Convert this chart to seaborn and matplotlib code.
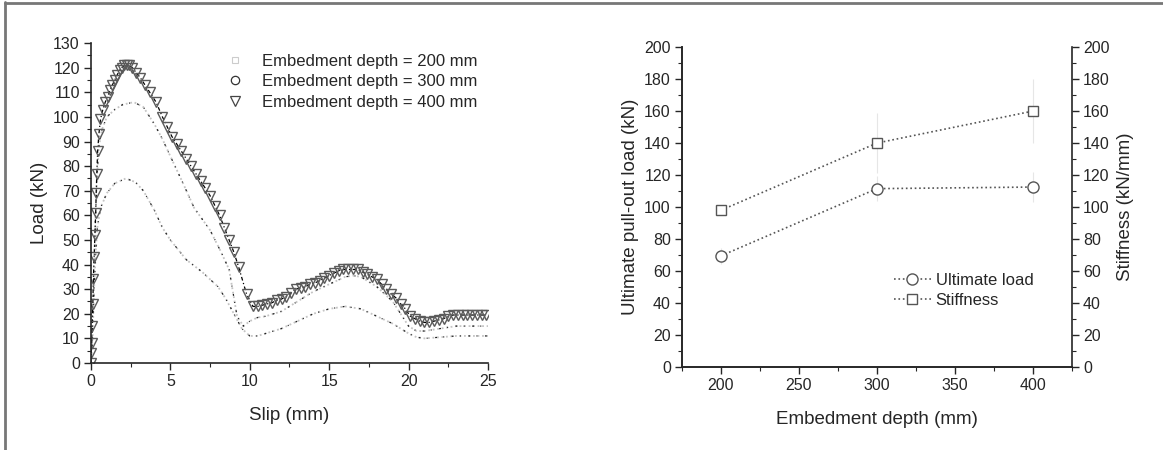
import numpy as np
import pandas as pd
import matplotlib
matplotlib.use("Agg")
import matplotlib.pyplot as plt
from matplotlib.lines import Line2D
from matplotlib.ticker import MultipleLocator
import seaborn as sns

# ---------------- data: left panel (load-slip curves) ----------------
slip_200 = [0, 0.1, 0.2, 0.3, 0.4, 0.6, 1.0, 1.5, 2.2, 2.8, 3.3, 4.0, 4.5, 5.0, 6.0, 7.0,
            8.0, 8.5, 9.0, 9.5, 10.0, 10.5, 11, 12, 13, 14, 15, 16, 17, 18, 19, 20, 20.5,
            21, 22, 23, 24, 25]
load_200 = [0, 10, 30, 45, 55, 63, 69, 73, 75, 73.5, 70, 62, 55, 50, 42, 37,
            31, 26, 20, 14, 11, 11, 12, 14, 17, 20, 22, 23, 22, 19, 16, 12, 10.5,
            10, 10.5, 11, 11, 11]

slip_300 = [0, 0.1, 0.2, 0.3, 0.4, 0.5, 0.7, 1.0, 1.5, 2.0, 2.7, 3.3, 4.0, 4.5, 5.0, 5.8,
            6.5, 7.5, 8.2, 8.7, 9.2, 9.6, 10.0, 10.5, 11, 12, 13, 14, 15, 16, 16.5, 17,
            18, 19, 19.5, 20, 20.5, 21, 22, 23, 24, 25]
load_300 = [0, 15, 40, 62, 78, 88, 95, 100, 103, 105, 106, 104, 97, 91, 84, 73,
            63, 54, 45, 38, 19, 15, 17, 18.5, 19, 21, 25, 29, 32, 35, 35.5, 35,
            31, 25, 20, 15, 13, 13, 14, 15, 15, 15]

slip_400 = [0, 0.02, 0.05, 0.08, 0.12, 0.15, 0.2, 0.25, 0.3, 0.33, 0.37, 0.42, 0.5, 0.6,
            0.75, 0.9, 1.05, 1.2, 1.35, 1.5, 1.65, 1.8, 1.95, 2.1, 2.25, 2.4, 2.6, 2.85,
            3.1, 3.4, 3.7, 4.1, 4.5, 4.8, 5.1, 5.4, 5.7, 6.0, 6.3, 6.6, 6.9, 7.2, 7.5,
            7.8, 8.1, 8.4, 8.7, 9.0, 9.3, 9.8, 10.2, 10.5, 10.8, 11.1, 11.4, 11.7, 12.0,
            12.3, 12.6, 12.9, 13.2, 13.5, 13.8, 14.1, 14.4, 14.7, 15.0, 15.3, 15.6, 15.9,
            16.2, 16.5, 16.8, 17.1, 17.4, 17.7, 18.0, 18.3, 18.6, 18.9, 19.2, 19.5, 19.8,
            20.1, 20.4, 20.7, 21.0, 21.3, 21.6, 21.9, 22.2, 22.5, 22.8, 23.1, 23.4, 23.7,
            24.0, 24.3, 24.6, 24.9]
load_400 = [0, 4, 8, 15, 24, 34, 43, 52, 61, 69, 77, 86, 93, 99,
            103, 106, 108, 111, 113, 115, 117, 119, 120, 121, 121, 121, 120, 118,
            116, 113, 110, 106, 100, 96, 92, 89, 86, 83, 80, 77, 74, 71, 68,
            64, 60, 55, 50, 45, 39, 28, 23, 23, 23.5, 24, 24.5, 25.5, 26,
            27, 28.5, 30, 30.5, 31, 32, 32.5, 33.5, 34.5, 35.5, 36.5, 37.5, 38,
            38, 38, 38, 37, 36, 35, 34, 32, 30, 28, 26.5, 24, 22,
            19, 18, 17, 16.5, 16.5, 17, 17.5, 18, 19, 19.5, 19.5, 19.5, 19.5,
            19.5, 19.5, 19.5, 19.5]

legend_labels_left = ["Embedment depth = 200 mm", "Embedment depth = 300 mm",
                      "Embedment depth = 400 mm"]

# ---------------- data: right panel ----------------
depth = [200, 300, 400]
ultimate_load = [69.5, 111.5, 112.5]
ultimate_err = [5, 8, 9.5]
stiffness = [98, 140, 160]
stiffness_err = [2, 19, 20]

# ---------------- style ----------------
sns.set_style("ticks")
plt.rcParams["font.family"] = ["Liberation Sans", "DejaVu Sans"]
plt.rcParams["axes.linewidth"] = 1.2
plt.rcParams["xtick.major.width"] = 1.0
plt.rcParams["ytick.major.width"] = 1.0
plt.rcParams["xtick.minor.width"] = 0.8
plt.rcParams["ytick.minor.width"] = 0.8
plt.rcParams["xtick.direction"] = "out"
plt.rcParams["ytick.direction"] = "out"

fig = plt.figure(figsize=(11.63, 4.5), dpi=100)
fig.patch.set_facecolor("white")

TICK_FS = 11.5
LABEL_FS = 13.5
LEG_FS = 12

# ---------------- left panel ----------------
ax1 = fig.add_axes([0.0782, 0.1933, 0.3414, 0.711])
grey = "#c4c4c4"
for xs, ys in [(slip_200, load_200), (slip_300, load_300)]:
    df = pd.DataFrame({"x": xs, "y": ys})
    sns.lineplot(data=df, x="x", y="y", ax=ax1, sort=False, estimator=None,
                 color=grey, linestyle=(0, (1, 1.5)), linewidth=1.3)
    sns.lineplot(data=df, x="x", y="y", ax=ax1, sort=False, estimator=None,
                 color="#202020", linewidth=0.9,
                 linestyle=(0, (1.5, 5, 0.8, 6)))
df400 = pd.DataFrame({"x": slip_400, "y": load_400})
sns.lineplot(data=df400, x="x", y="y", ax=ax1, sort=False, estimator=None,
             color="black", linewidth=0.9, linestyle=(0, (3, 2, 1, 2)),
             marker="v", markersize=7.5, markerfacecolor="none",
             markeredgecolor="#5a5a5a", markeredgewidth=1.0)

ax1.set_xlim(0, 25)
ax1.set_ylim(0, 130)
ax1.xaxis.set_major_locator(MultipleLocator(5))
ax1.xaxis.set_minor_locator(MultipleLocator(2.5))
ax1.yaxis.set_major_locator(MultipleLocator(10))
ax1.yaxis.set_minor_locator(MultipleLocator(5))
ax1.tick_params(which="major", length=5, labelsize=TICK_FS, pad=3)
ax1.tick_params(which="minor", length=3)
ax1.set_xlabel("Slip (mm)", fontsize=LABEL_FS, labelpad=13)
ax1.set_ylabel("Load (kN)", fontsize=LABEL_FS, labelpad=4)
sns.despine(ax=ax1)

h1 = [Line2D([], [], linestyle="none", marker="s", markersize=5,
             markerfacecolor="none", markeredgecolor="#cccccc", markeredgewidth=0.8),
      Line2D([], [], linestyle="none", marker="o", markersize=6,
             markerfacecolor="none", markeredgecolor="#333333", markeredgewidth=0.9),
      Line2D([], [], linestyle="none", marker="v", markersize=7,
             markerfacecolor="none", markeredgecolor="#444444", markeredgewidth=0.9)]
ax1.legend(h1, legend_labels_left, loc="upper left", bbox_to_anchor=(0.30, 1.013),
           frameon=False, fontsize=LEG_FS, handlelength=1.2, handletextpad=1.0,
           labelspacing=0.32)

# ---------------- right panel ----------------
ax2 = fig.add_axes([0.5864, 0.1844, 0.3353, 0.711])
ax3 = ax2.twinx()
line_col = "#555555"
ax2.errorbar(depth, ultimate_load, yerr=ultimate_err, fmt="none",
             ecolor="#e6e6e6", elinewidth=0.8, linestyle=":", capsize=0)
ax3.errorbar(depth, stiffness, yerr=stiffness_err, fmt="none",
             ecolor="#e6e6e6", elinewidth=0.8, linestyle=":", capsize=0)
sns.lineplot(x=depth, y=ultimate_load, ax=ax2, color=line_col, linestyle=":",
             linewidth=1.2, marker="o", markersize=8, markerfacecolor="white",
             markeredgecolor="#555555", markeredgewidth=1.0)
sns.lineplot(x=depth, y=stiffness, ax=ax3, color=line_col, linestyle=":",
             linewidth=1.2, marker="s", markersize=7.5, markerfacecolor="white",
             markeredgecolor="#555555", markeredgewidth=1.0)

for a in (ax2, ax3):
    a.set_ylim(0, 200)
    a.yaxis.set_major_locator(MultipleLocator(20))
    a.yaxis.set_minor_locator(MultipleLocator(10))
    a.tick_params(which="major", length=5, labelsize=TICK_FS, pad=3)
    a.tick_params(which="minor", length=3)
ax2.set_xlim(175, 425)
ax2.xaxis.set_major_locator(MultipleLocator(50))
ax2.xaxis.set_minor_locator(MultipleLocator(25))
ax2.set_xlabel("Embedment depth (mm)", fontsize=LABEL_FS, labelpad=13)
ax2.set_ylabel("Ultimate pull-out load (kN)", fontsize=LABEL_FS, labelpad=4)
ax3.set_ylabel("Stiffness (kN/mm)", fontsize=LABEL_FS, labelpad=5)
for a in (ax2, ax3):
    a.spines["top"].set_visible(False)
ax2.spines["right"].set_visible(False)

h2 = [Line2D([], [], color=line_col, linestyle=":", linewidth=1.2, marker="o",
             markersize=8, markerfacecolor="white", markeredgecolor="#555555"),
      Line2D([], [], color=line_col, linestyle=":", linewidth=1.2, marker="s",
             markersize=7.5, markerfacecolor="white", markeredgecolor="#555555")]
ax2.legend(h2, ["Ultimate load", "Stiffness"], loc="upper left",
           bbox_to_anchor=(0.505, 0.34), frameon=False, fontsize=LEG_FS,
           handlelength=2.2, handletextpad=0.3, labelspacing=0.3)

# scanned-figure frame (left and top edges)
fig.add_artist(Line2D([0.004, 0.004], [0, 0.995], transform=fig.transFigure,
                      color="#777777", linewidth=2))
fig.add_artist(Line2D([0.004, 1.0], [0.993, 0.993], transform=fig.transFigure,
                      color="#777777", linewidth=2))

fig.savefig("out.png", dpi=100, facecolor="white")
